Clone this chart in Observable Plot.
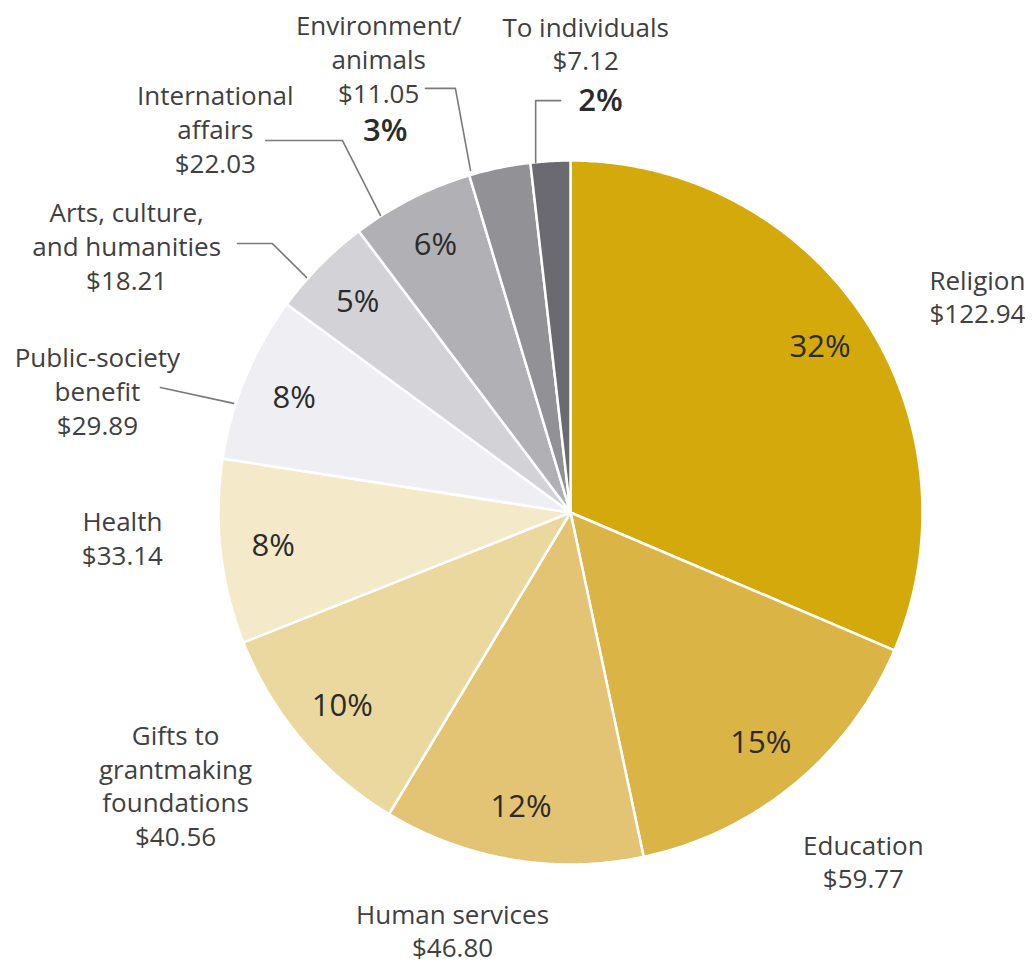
<!DOCTYPE html>
<html>
<head>
<meta charset="utf-8">
<script src="https://cdn.jsdelivr.net/npm/d3@7"></script>
<script src="https://cdn.jsdelivr.net/npm/@observablehq/plot@0.6"></script>
<style>
  html, body { margin: 0; padding: 0; background: #fff; }
  svg { display: block; }
</style>
</head>
<body>
<div id="chart"></div>
<script>
// ---- data ----
const categories = ["Religion", "Education", "Human services", "Gifts to grantmaking foundations", "Health",
  "Public-society benefit", "Arts, culture, and humanities", "International affairs", "Environment/animals", "To individuals"];
const amounts = [122.94, 59.77, 46.80, 40.56, 33.14, 29.89, 18.21, 22.03, 11.05, 7.12];
const percents = ["32%", "15%", "12%", "10%", "8%", "8%", "5%", "6%", "3%", "2%"];
const labelTexts = ["Religion", "Education", "Human services", "Gifts to\ngrantmaking\nfoundations", "Health",
  "Public-society\nbenefit", "Arts, culture,\nand humanities", "International\naffairs", "Environment/\nanimals", "To individuals"];
const sliceColors = ["#d4a90b", "#dab445", "#e3c474", "#ebd89f", "#f4eaca", "#efeff3", "#d3d3d7", "#b1b1b5", "#919196", "#6a6a70"];

// ---- annotation layout (unit-circle coordinates) ----
const labelCenters = [[1.156, 0.616], [0.832, -0.989], [-0.335, -1.185], [-1.122, -0.773], [-1.273, -0.071],
  [-1.344, 0.347], [-1.261, 0.759], [-1.009, 1.091], [-0.545, 1.290], [0.043, 1.335]];
const outsidePct = {8: [-0.526, 1.085], 9: [0.085, 1.170]};
const leaders = {
  5: [[-1.165, 0.355], [-0.957, 0.310]],
  6: [[-0.946, 0.764], [-0.847, 0.764], [-0.750, 0.668]],
  7: [[-0.866, 1.057], [-0.648, 1.057], [-0.540, 0.844]],
  8: [[-0.412, 1.205], [-0.327, 1.205], [-0.284, 0.972]],
  9: [[-0.099, 0.994], [-0.099, 1.170], [-0.028, 1.170]]
};

// ---- build ----
const rows = categories.map((name, i) => ({name, amount: amounts[i], pct: percents[i], label: labelTexts[i], i}));
const arcs = d3.pie().sort(null).value(d => d.amount)(rows);

const slicePts = [];
arcs.forEach(a => {
  const name = a.data.name;
  slicePts.push({name, x: 0, y: 0});
  const n = Math.max(2, Math.ceil((a.endAngle - a.startAngle) / (Math.PI / 360)));
  for (let k = 0; k <= n; k++) {
    const t = a.startAngle + (a.endAngle - a.startAngle) * k / n;
    slicePts.push({name, x: Math.sin(t), y: Math.cos(t)});
  }
});

const innerPct = arcs.filter(a => !(a.data.i in outsidePct)).map(a => {
  const m = (a.startAngle + a.endAngle) / 2;
  return {text: a.data.pct, x: 0.85 * Math.sin(m), y: 0.85 * Math.cos(m)};
});
const outerPct = rows.filter(r => r.i in outsidePct).map(r => ({text: r.pct, x: outsidePct[r.i][0], y: outsidePct[r.i][1]}));
const labels = rows.map(r => ({text: r.label + "\n$" + r.amount.toFixed(2), x: labelCenters[r.i][0], y: labelCenters[r.i][1]}));
const leaderPts = [];
Object.entries(leaders).forEach(([i, pts]) => pts.forEach(p => leaderPts.push({id: i, x: p[0], y: p[1]})));

const chart = Plot.plot({
  width: 1034,
  height: 968,
  margin: 0,
  style: {fontFamily: "'Open Sans', 'Noto Sans', sans-serif", background: "#fff"},
  x: {domain: [-1, 1], range: [218, 922], axis: null},
  y: {domain: [-1, 1], range: [864, 160], axis: null},
  color: {domain: categories, range: sliceColors},
  marks: [
    Plot.line(slicePts, {x: "x", y: "y", z: "name", fill: "name", stroke: "#fff", strokeWidth: 2.5, curve: "linear-closed"}),
    Plot.line(leaderPts, {x: "x", y: "y", z: "id", stroke: "#7a7a7a", strokeWidth: 1.6}),
    Plot.text(innerPct, {x: "x", y: "y", text: "text", fontSize: 31, fontWeight: 500, fill: "#2b2b2b"}),
    Plot.text(outerPct, {x: "x", y: "y", text: "text", fontSize: 31, fontWeight: 600, fill: "#2b2b2b"}),
    Plot.text(labels, {x: "x", y: "y", text: "text", fontSize: 26, lineHeight: 1.3, lineAnchor: "middle", textAnchor: "middle", fill: "#404040"})
  ]
});
document.getElementById("chart").appendChild(chart);
</script>
</body>
</html>
